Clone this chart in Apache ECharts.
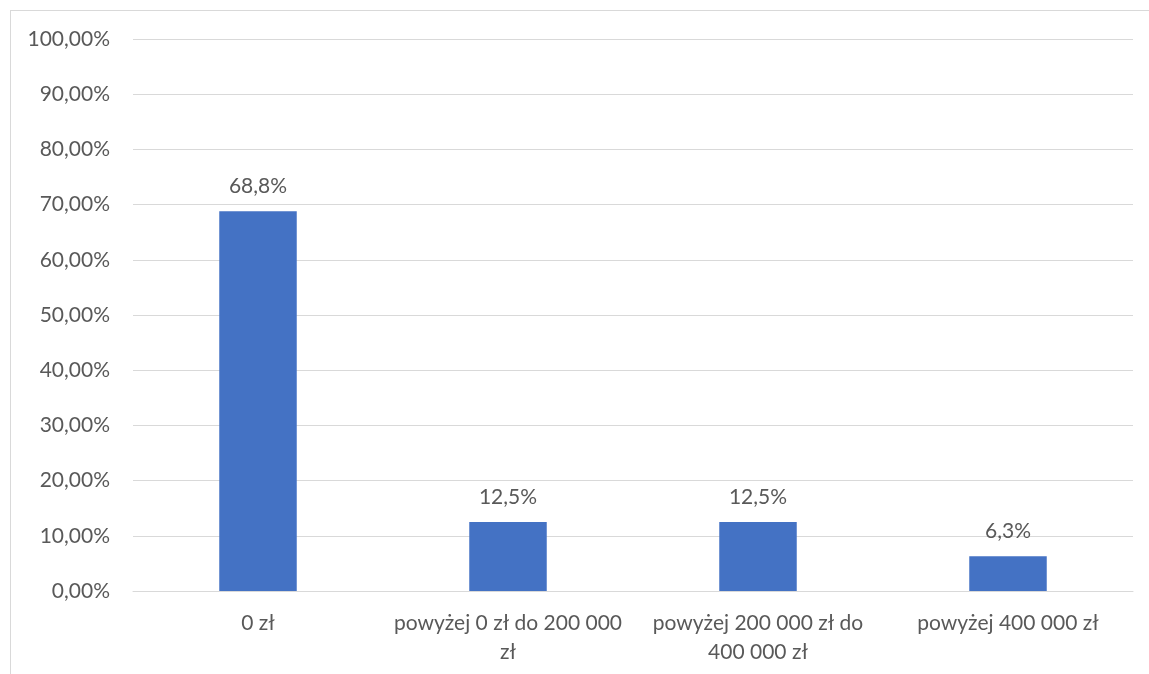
<!DOCTYPE html>
<html>
<head>
<meta charset="utf-8">
<script src="https://cdn.jsdelivr.net/npm/echarts@6/dist/echarts.min.js"></script>
<style>
  html, body { margin: 0; padding: 0; background: #fff; }
  #frame { position: absolute; left: 10px; top: 10px; width: 1139px; height: 664px;
           border-left: 1px solid #d9d9d9; border-top: 1px solid #d9d9d9; box-sizing: border-box; }
  #chart { position: absolute; left: 0; top: 0; width: 1149px; height: 674px; }
</style>
</head>
<body>
<div id="frame"></div>
<div id="chart"></div>
<script>
// Share of respondents by amount bracket (percent)
const categories = ['0 zł', 'powyżej 0 zł do 200 000 zł', 'powyżej 200 000 zł do 400 000 zł', 'powyżej 400 000 zł'];
const values = [68.8, 12.5, 12.5, 6.3];

const textColor = '#595959';
const fontFamily = 'Lato, "Open Sans", "Noto Sans", sans-serif';
const fontSize = 21;

// Word-wrap a category name so each line fits within maxWidth pixels
const measureCtx = document.createElement('canvas').getContext('2d');
measureCtx.font = fontSize + 'px ' + fontFamily;
function wrapLabel(text, maxWidth) {
  const words = text.split(' ');
  const lines = [];
  let line = '';
  for (const w of words) {
    const test = line ? line + ' ' + w : w;
    if (line && measureCtx.measureText(test).width > maxWidth) {
      lines.push(line);
      line = w;
    } else {
      line = test;
    }
  }
  if (line) lines.push(line);
  return lines.join('\n');
}

const chart = echarts.init(document.getElementById('chart'), null, { renderer: 'canvas' });
chart.setOption({
  animation: false,
  grid: { left: 133, right: 16, top: 39, bottom: 83, containLabel: false },
  xAxis: {
    type: 'category',
    data: categories,
    axisLine: { show: true, lineStyle: { color: '#d9d9d9', width: 1 } },
    axisTick: { show: false },
    axisLabel: {
      color: textColor, fontSize: fontSize, fontFamily: fontFamily,
      margin: 18, lineHeight: 29, interval: 0,
      formatter: v => wrapLabel(v, 245)
    }
  },
  yAxis: {
    type: 'value',
    min: 0, max: 100, interval: 10,
    axisLine: { show: false },
    axisTick: { show: false },
    splitLine: { lineStyle: { color: '#d9d9d9', width: 1 } },
    axisLabel: {
      color: textColor, fontSize: fontSize, fontFamily: fontFamily, margin: 23,
      formatter: v => v.toFixed(2).replace('.', ',') + '%'
    }
  },
  series: [{
    type: 'bar',
    data: values,
    barWidth: '31%',
    itemStyle: { color: '#4472C4' },
    label: {
      show: true, position: 'top', distance: 14,
      color: textColor, fontSize: fontSize, fontFamily: fontFamily,
      formatter: p => p.value.toFixed(1).replace('.', ',') + '%'
    }
  }]
});
</script>
</body>
</html>
